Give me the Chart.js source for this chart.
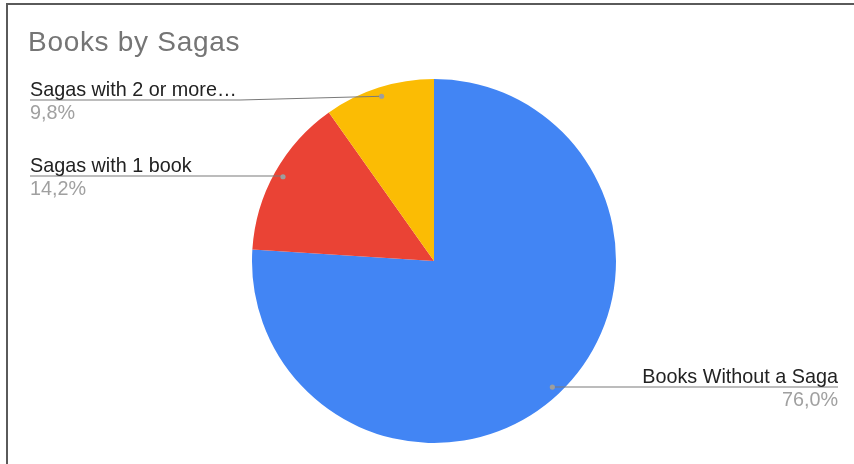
<!DOCTYPE html>
<html>
<head>
<meta charset="utf-8">
<script src="https://cdn.jsdelivr.net/npm/chart.js@4.4.1/dist/chart.umd.min.js"></script>
<style>
  html, body { margin: 0; padding: 0; background: #fff; overflow: hidden; }
  #wrap { position: relative; width: 854px; height: 464px; }
  #frame { position: absolute; left: 6px; top: 3px; width: 900px; height: 520px;
           border: 2px solid #5a5a5a; box-sizing: border-box; pointer-events: none; }
  canvas { position: absolute; left: 0; top: 0; }
</style>
</head>
<body>
<div id="wrap">
  <canvas id="c" width="854" height="464"></canvas>
  <div id="frame"></div>
</div>
<script>
const chartTitle = 'Books by Sagas';
const categories = ['Books Without a Saga', 'Sagas with 1 book', 'Sagas with 2 or more…'];
const shares = [76.0, 14.2, 9.8];
const sliceColors = ['#4285F4', '#EA4335', '#FBBC04'];

// where each callout's underline sits: side of the chart, underline y, outer x end
const calloutLayout = [
  { side: 'right', y: 387, x: 838 },
  { side: 'left',  y: 176, x: 30 },
  { side: 'left',  y: 100, x: 30, elbowX: 240 }
];

const fmt = v => v.toFixed(1).replace('.', ',') + '%';

const calloutPlugin = {
  id: 'callouts',
  afterDatasetsDraw(chart) {
    const ctx = chart.ctx;
    // title
    ctx.save();
    ctx.font = '28px "Liberation Sans", Arial, sans-serif';
    ctx.letterSpacing = '0.7px';
    ctx.fillStyle = '#757575';
    ctx.textBaseline = 'alphabetic';
    ctx.textAlign = 'left';
    ctx.fillText(chartTitle, 28, 51);
    ctx.letterSpacing = '0px';

    const meta = chart.getDatasetMeta(0);
    meta.data.forEach((arc, i) => {
      const p = arc.getProps(['x', 'y', 'startAngle', 'endAngle', 'outerRadius'], true);
      const mid = (p.startAngle + p.endAngle) / 2;
      const r = p.outerRadius * 0.95;
      const dx = p.x + Math.cos(mid) * r;
      const dy = p.y + Math.sin(mid) * r;
      const L = calloutLayout[i];

      ctx.strokeStyle = '#7a7a7a';
      ctx.lineWidth = 1.2;
      ctx.beginPath();
      ctx.moveTo(dx, dy);
      if (L.elbowX !== undefined) ctx.lineTo(L.elbowX, L.y);
      else ctx.lineTo(dx, L.y);
      ctx.lineTo(L.x, L.y);
      ctx.stroke();

      ctx.fillStyle = '#9e9e9e';
      ctx.beginPath();
      ctx.arc(dx, dy, 2.6, 0, Math.PI * 2);
      ctx.fill();

      ctx.textAlign = L.side === 'right' ? 'right' : 'left';
      ctx.font = '19.8px "Liberation Sans", Arial, sans-serif';
      ctx.fillStyle = '#222222';
      ctx.fillText(categories[i], L.x, L.y - 4);
      ctx.fillStyle = '#a0a0a0';
      ctx.fillText(fmt(shares[i]), L.x, L.y + 19);
    });
    ctx.restore();
  }
};

new Chart(document.getElementById('c'), {
  type: 'pie',
  data: {
    labels: categories,
    datasets: [{
      data: shares,
      backgroundColor: sliceColors,
      borderWidth: 0,
      hoverOffset: 0
    }]
  },
  options: {
    responsive: false,
    animation: false,
    events: [],
    layout: { padding: { left: 14, right: 0, top: 79, bottom: 21 } },
    plugins: {
      legend: { display: false },
      title: { display: false },
      tooltip: { enabled: false }
    }
  },
  plugins: [calloutPlugin]
});
</script>
</body>
</html>
